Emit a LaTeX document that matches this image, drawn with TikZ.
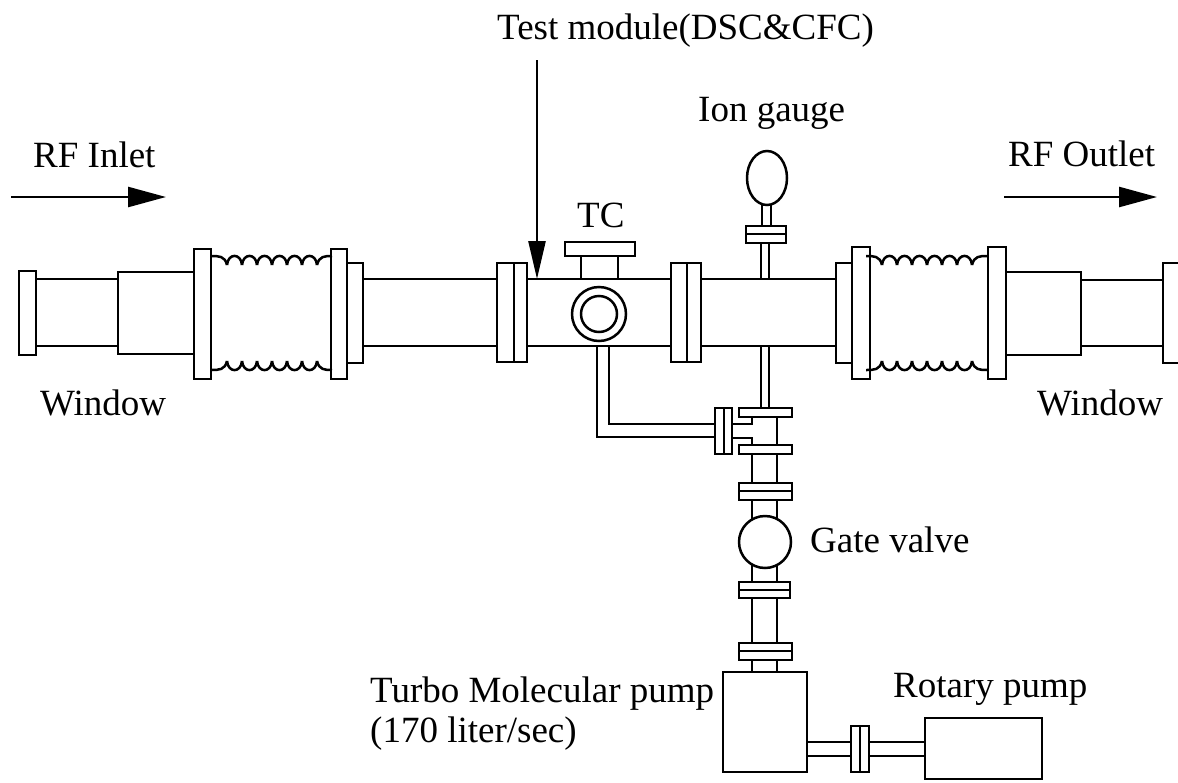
\documentclass[tikz,border=0pt]{standalone}
\usepackage{fontspec}
\setmainfont{Liberation Serif}
\usetikzlibrary{positioning, arrows.meta, shapes.geometric, calc}

\tikzset{
    pipe/.style={draw, line width=2.5pt, line join=miter},
    label/.style={anchor=base west, inner sep=0pt, font=\fontsize{37}{42}\selectfont},
    flow/.style={line width=2.5pt, -{Triangle[length=38pt, width=20pt]}},
    pumpbox/.style={rectangle, draw, line width=2.5pt, inner sep=0pt},
    bulb/.style={ellipse, draw, line width=2.5pt, inner sep=0pt}
}

% one row of scallops, y values given as cusp and crest
\newcommand{\bellows}[3]{
    \draw[pipe] (#1-16,#3) .. controls (#1-8,#3) and (#1-2,#3) .. (#1,#2);
    \foreach \i in {0,...,5}
        \draw[pipe] ({#1+15*\i},#2) .. controls ({#1+15*\i+1},{#3-0.35*#2+0.35*#3}) and ({#1+15*\i+14},{#3-0.35*#2+0.35*#3}) .. ({#1+15*\i+15},#2);
    \draw[pipe] (#1+90,#2) .. controls (#1+92,#3) and (#1+98,#3) .. (#1+105,#3);
}

\begin{document}
\begin{tikzpicture}[x=1pt, y=-1pt]
    \useasboundingbox (0,0) rectangle (1178,782);

    % labels
    \node[label] (testlabel) at (497,39) {Test module(DSC\&CFC)};
    \node[label] (ionlabel) at (698,121) {Ion gauge};
    \node[label] (inlet) at (33,167) {RF Inlet};
    \node[label] (outlet) at (1008,166) {RF Outlet};
    \node[label] (tclabel) at (577,227) {TC};
    \node[label] (windowL) at (40,415) {Window};
    \node[label] (windowR) at (1037,415) {Window};
    \node[label] (gatelabel) at (810,552) {Gate valve};
    \node[label] (turbolabel) at (370,702) {Turbo Molecular pump};
    \node[label] (speedlabel) at (370,742) {(170 liter/sec)};
    \node[label] (rotarylabel) at (893,697) {Rotary pump};

    % arrows
    \coordinate (inA) at (11,197);
    \coordinate (inB) at (166,197);
    \coordinate (outA) at (1004,197);
    \coordinate (outB) at (1157,197);
    \coordinate (testA) at (537,60);
    \coordinate (testB) at (537,279);
    \draw[flow] (inA) -- (inB);
    \draw[flow] (outA) -- (outB);
    \draw[flow, -{Triangle[length=38pt, width=17pt]}] (testA) -- (testB);

    % main line, left side
    \draw[pipe] (19,271) rectangle (36,355);
    \draw[pipe] (36,279) -- (118,279) (36,346) -- (118,346);
    \draw[pipe] (118,272) rectangle (194,354);
    \draw[pipe] (194,249) rectangle (211,379);
    \draw[pipe] (331,249) rectangle (347,379);
    \draw[pipe] (347,263) rectangle (363,363);
    \draw[pipe] (363,279) -- (497,279) (363,346) -- (497,346);
    \bellows{227}{265}{256}
    \bellows{227}{361}{370}

    % test module
    \draw[pipe] (497,263) rectangle (527,362) (514,263) -- (514,362);
    \draw[pipe] (527,279) -- (671,279) (527,346) -- (671,346);
    \draw[pipe] (581,256) -- (581,279) (618,256) -- (618,279);
    \draw[pipe] (565,242) rectangle (635,256);
    \node[circle, draw, line width=2.5pt, minimum size=54pt, inner sep=0pt, fill=white] (portout) at (599,314) {};
    \node[circle, draw, line width=2.5pt, minimum size=36pt, inner sep=0pt] (portin) at (599,314) {};
    \draw[pipe] (671,263) rectangle (701,362) (687,263) -- (687,362);

    % main line, right side
    \draw[pipe] (701,279) -- (836,279) (701,346) -- (836,346);
    \draw[pipe] (836,263) rectangle (852,363);
    \draw[pipe] (852,247) rectangle (870,379);
    \draw[pipe] (988,247) rectangle (1006,379);
    \draw[pipe] (1006,272) rectangle (1081,355);
    \draw[pipe] (1081,280) -- (1163,280) (1081,346) -- (1163,346);
    \draw[pipe] (1178,263) -- (1163,263) -- (1163,363) -- (1178,363);
    \bellows{882}{265}{256}
    \bellows{882}{361}{370}

    % ion gauge
    \node[bulb, minimum width=40pt, minimum height=54pt] (gauge) at (767,178) {};
    \draw[pipe] (762,205) -- (762,226) (771,205) -- (771,226);
    \draw[pipe] (746,226) rectangle (786,243) (746,234) -- (786,234);
    \draw[pipe] (761,243) -- (761,279) (769,243) -- (769,279);

    % thin pipe to the cross
    \draw[pipe] (761,346) -- (761,408) (769,346) -- (769,408);
    \draw[pipe] (739,408) rectangle (792,417);
    \draw[pipe] (739,445) rectangle (792,454);
    \draw[pipe] (777,417) -- (777,445);
    \draw[pipe] (752,417) -- (752,424) -- (732,424);
    \draw[pipe] (732,438) -- (752,438) -- (752,445);
    \draw[pipe] (715,408) rectangle (732,454) (724,408) -- (724,454);
    \draw[pipe] (597,346) -- (597,437) -- (715,437);
    \draw[pipe] (609,346) -- (609,424) -- (715,424);

    % gate valve and stack
    \node[circle, draw, line width=2.5pt, minimum size=52pt, inner sep=0pt] (valve) at (765,542) {};
    \draw[pipe] (752,454) -- (752,483) (777,454) -- (777,483);
    \draw[pipe] (739,483) rectangle (792,500) (739,491) -- (792,491);
    \draw[pipe] (752,500) -- (752,519) (777,500) -- (777,519);
    \draw[pipe] (752,565) -- (752,582) (777,565) -- (777,582);
    \draw[pipe] (739,582) rectangle (790,598) (739,590) -- (790,590);
    \draw[pipe] (752,598) -- (752,643) (777,598) -- (777,643);
    \draw[pipe] (739,643) rectangle (792,660) (739,651) -- (792,651);
    \draw[pipe] (752,660) -- (752,672) (777,660) -- (777,672);

    % pumps
    \node[pumpbox, minimum width=84pt, minimum height=100pt] (turbo) at (765,722) {};
    \node[pumpbox, minimum width=117pt, minimum height=61pt] (rotary) at (983.5,748.5) {};
    \coordinate (lineup) at (0,742);
    \coordinate (linedown) at (0,756);
    \draw[pipe] (turbo.east |- lineup) -- (851,742) (turbo.east |- linedown) -- (851,756);
    \draw[pipe] (851,726) rectangle (869,772) (860,726) -- (860,772);
    \draw[pipe] (869,742) -- (rotary.west |- lineup) (869,756) -- (rotary.west |- linedown);
\end{tikzpicture}
\end{document}
